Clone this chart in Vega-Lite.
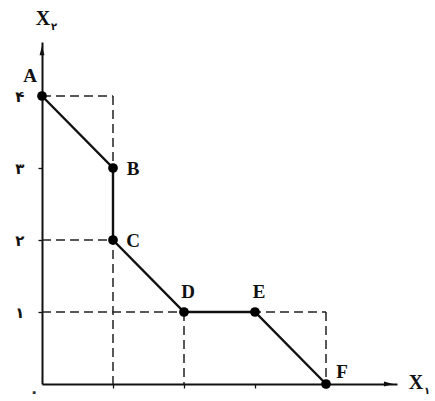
{
  "$schema": "https://vega.github.io/schema/vega-lite/v6.json",
  "width": 355,
  "height": 342,
  "autosize": "none",
  "padding": {"left": 42, "top": 42, "right": 38, "bottom": 17},
  "background": "white",
  "config": {"view": {"stroke": null}},
  "datasets": {
    "pts": [
      {"i": 1, "x": 0, "y": 4, "label": "A"},
      {"i": 2, "x": 1, "y": 3, "label": "B"},
      {"i": 3, "x": 1, "y": 2, "label": "C"},
      {"i": 4, "x": 2, "y": 1, "label": "D"},
      {"i": 5, "x": 3, "y": 1, "label": "E"},
      {"i": 6, "x": 4, "y": 0, "label": "F"}
    ],
    "dash": [
      {"x": 0, "y": 4, "x2": 1, "y2": 4},
      {"x": 1, "y": 4, "x2": 1, "y2": 0},
      {"x": 0, "y": 2, "x2": 1, "y2": 2},
      {"x": 0, "y": 1, "x2": 4, "y2": 1},
      {"x": 2, "y": 1, "x2": 2, "y2": 0},
      {"x": 4, "y": 1, "x2": 4, "y2": 0}
    ]
  },
  "layer": [
    {
      "data": {"name": "dash"},
      "mark": {"type": "rule", "strokeDash": [9, 5], "color": "#222", "strokeWidth": 1.5},
      "encoding": {
        "x": {"field": "x", "type": "quantitative", "scale": {"domain": [0, 5], "nice": false},
              "axis": {"values": [1, 2, 3, 4], "labels": false, "grid": false, "title": null, "domainColor": "#111", "domainWidth": 2, "tickColor": "#111", "tickSize": 4, "tickWidth": 1.3}},
        "y": {"field": "y", "type": "quantitative", "scale": {"domain": [0, 4.75], "nice": false},
              "axis": {"values": [1, 2, 3, 4], "grid": false, "title": null, "domainColor": "#111", "domainWidth": 2, "tickColor": "#111", "tickSize": 4, "tickWidth": 1.3,
                       "labelExpr": "datum.value == 1 ? '۱' : datum.value == 2 ? '۲' : datum.value == 3 ? '۳' : '۴'",
                       "labelFont": "DejaVu Sans", "labelFontSize": 15, "labelFontWeight": "bold", "labelColor": "#111", "labelPadding": 14}},
        "x2": {"field": "x2"},
        "y2": {"field": "y2"}
      }
    },
    {
      "data": {"name": "pts"},
      "mark": {"type": "line", "color": "#111", "strokeWidth": 2.4},
      "encoding": {
        "x": {"field": "x", "type": "quantitative"},
        "y": {"field": "y", "type": "quantitative"},
        "order": {"field": "i", "type": "quantitative"}
      }
    },
    {
      "data": {"name": "pts"},
      "mark": {"type": "point", "filled": true, "color": "#000", "size": 95, "opacity": 1},
      "encoding": {
        "x": {"field": "x", "type": "quantitative"},
        "y": {"field": "y", "type": "quantitative"}
      }
    },
    {
      "data": {"name": "pts"},
      "transform": [{"filter": "datum.label == 'A'"}],
      "mark": {"type": "text", "font": "Liberation Serif", "fontWeight": "bold", "fontSize": 19, "dx": -12, "dy": -20, "color": "#111"},
      "encoding": {
        "x": {"field": "x", "type": "quantitative"},
        "y": {"field": "y", "type": "quantitative"},
        "text": {"field": "label"}
      }
    },
    {
      "data": {"name": "pts"},
      "transform": [{"filter": "datum.label == 'B' || datum.label == 'C'"}],
      "mark": {"type": "text", "font": "Liberation Serif", "fontWeight": "bold", "fontSize": 19, "dx": 20, "dy": 1, "color": "#111"},
      "encoding": {
        "x": {"field": "x", "type": "quantitative"},
        "y": {"field": "y", "type": "quantitative"},
        "text": {"field": "label"}
      }
    },
    {
      "data": {"name": "pts"},
      "transform": [{"filter": "datum.label == 'D' || datum.label == 'E'"}],
      "mark": {"type": "text", "font": "Liberation Serif", "fontWeight": "bold", "fontSize": 19, "dx": 4, "dy": -20, "color": "#111"},
      "encoding": {
        "x": {"field": "x", "type": "quantitative"},
        "y": {"field": "y", "type": "quantitative"},
        "text": {"field": "label"}
      }
    },
    {
      "data": {"name": "pts"},
      "transform": [{"filter": "datum.label == 'F'"}],
      "mark": {"type": "text", "font": "Liberation Serif", "fontWeight": "bold", "fontSize": 19, "dx": 16, "dy": -12, "color": "#111"},
      "encoding": {
        "x": {"field": "x", "type": "quantitative"},
        "y": {"field": "y", "type": "quantitative"},
        "text": {"field": "label"}
      }
    },
    {
      "data": {"values": [{"x": 0, "y": 4.62}]},
      "mark": {"type": "point", "filled": true, "color": "#111", "opacity": 1, "size": 120, "shape": "M0,-1L0.45,0.7L-0.45,0.7Z"},
      "encoding": {
        "x": {"field": "x", "type": "quantitative"},
        "y": {"field": "y", "type": "quantitative"}
      }
    },
    {
      "data": {"values": [{"x": 4.87, "y": 0}]},
      "mark": {"type": "point", "filled": true, "color": "#111", "opacity": 1, "size": 120, "shape": "M1,0L-0.7,0.45L-0.7,-0.45Z"},
      "encoding": {
        "x": {"field": "x", "type": "quantitative"},
        "y": {"field": "y", "type": "quantitative"}
      }
    },
    {
      "data": {"values": [{"x": 0, "y": 4.75, "t": "X"}]},
      "mark": {"type": "text", "font": "Liberation Serif", "fontWeight": "bold", "fontSize": 20, "dx": 1, "dy": -23, "color": "#111"},
      "encoding": {
        "x": {"field": "x", "type": "quantitative"},
        "y": {"field": "y", "type": "quantitative"},
        "text": {"field": "t"}
      }
    },
    {
      "data": {"values": [{"x": 0, "y": 4.75, "t": "۲"}]},
      "mark": {"type": "text", "font": "DejaVu Sans", "fontWeight": "bold", "fontSize": 10, "dx": 12, "dy": -15, "color": "#111"},
      "encoding": {
        "x": {"field": "x", "type": "quantitative"},
        "y": {"field": "y", "type": "quantitative"},
        "text": {"field": "t"}
      }
    },
    {
      "data": {"values": [{"x": 5, "y": 0, "t": "X"}]},
      "mark": {"type": "text", "font": "Liberation Serif", "fontWeight": "bold", "fontSize": 20, "dx": 19, "dy": -1, "color": "#111"},
      "encoding": {
        "x": {"field": "x", "type": "quantitative"},
        "y": {"field": "y", "type": "quantitative"},
        "text": {"field": "t"}
      }
    },
    {
      "data": {"values": [{"x": 5, "y": 0, "t": "۱"}]},
      "mark": {"type": "text", "font": "DejaVu Sans", "fontWeight": "bold", "fontSize": 10, "dx": 30, "dy": 7, "color": "#111"},
      "encoding": {
        "x": {"field": "x", "type": "quantitative"},
        "y": {"field": "y", "type": "quantitative"},
        "text": {"field": "t"}
      }
    },
    {
      "data": {"values": [{"x": 0, "y": 0, "t": "۰"}]},
      "mark": {"type": "text", "font": "DejaVu Sans", "fontWeight": "bold", "fontSize": 16, "dx": -8, "dy": 8, "color": "#333"},
      "encoding": {
        "x": {"field": "x", "type": "quantitative"},
        "y": {"field": "y", "type": "quantitative"},
        "text": {"field": "t"}
      }
    }
  ]
}
